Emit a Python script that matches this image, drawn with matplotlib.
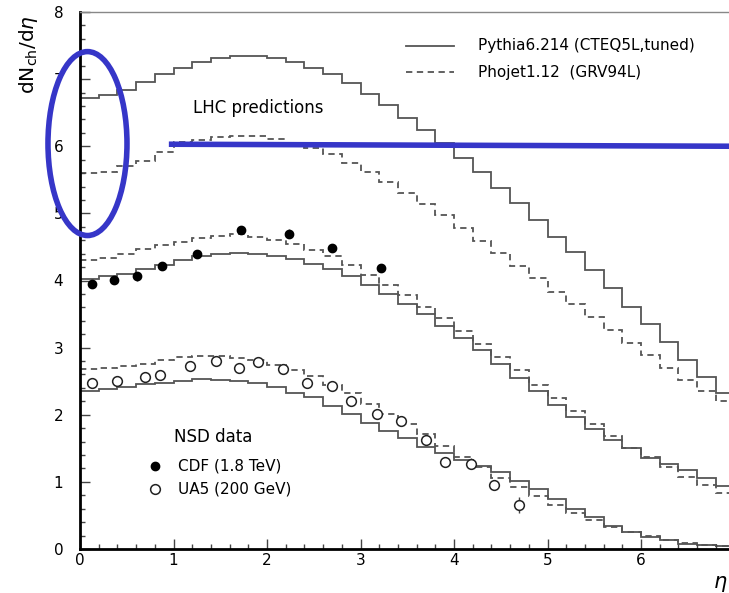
import numpy as np
import matplotlib
matplotlib.use("Agg")
import matplotlib.pyplot as plt
from matplotlib.patches import Ellipse

plt.rcParams['font.family'] = ['DejaVu Sans']

# pseudorapidity bins (width 0.2)
eta_edges = np.round(np.arange(0.0, 7.01, 0.2), 1)

# LHC predictions
lhc_pythia = [6.72, 6.77, 6.84, 6.95, 7.07, 7.16, 7.25, 7.31, 7.35, 7.35,
              7.31, 7.25, 7.16, 7.07, 6.94, 6.78, 6.61, 6.42, 6.24, 6.05,
              5.82, 5.61, 5.38, 5.15, 4.90, 4.65, 4.42, 4.15, 3.89, 3.61,
              3.35, 3.08, 2.82, 2.56, 2.33]
lhc_phojet = [5.60, 5.62, 5.71, 5.78, 5.91, 6.06, 6.10, 6.14, 6.16, 6.15,
              6.11, 6.04, 5.97, 5.88, 5.75, 5.62, 5.47, 5.30, 5.14, 4.97,
              4.78, 4.59, 4.41, 4.22, 4.03, 3.83, 3.65, 3.45, 3.26, 3.07,
              2.89, 2.70, 2.52, 2.35, 2.20]
# Tevatron 1.8 TeV
tev_pythia = [4.02, 4.06, 4.10, 4.17, 4.23, 4.30, 4.36, 4.39, 4.41, 4.40,
              4.36, 4.32, 4.25, 4.17, 4.06, 3.94, 3.80, 3.65, 3.50, 3.32,
              3.14, 2.96, 2.75, 2.55, 2.35, 2.15, 1.96, 1.79, 1.63, 1.50,
              1.36, 1.27, 1.17, 1.06, 0.94]
tev_phojet = [4.31, 4.33, 4.39, 4.47, 4.53, 4.58, 4.64, 4.67, 4.69, 4.65,
              4.60, 4.54, 4.46, 4.36, 4.23, 4.08, 3.94, 3.79, 3.61, 3.44,
              3.25, 3.05, 2.86, 2.66, 2.45, 2.25, 2.06, 1.86, 1.68, 1.51,
              1.37, 1.22, 1.08, 0.95, 0.83]
# SppS 200 GeV
ua5_pythia = [2.36, 2.39, 2.42, 2.46, 2.48, 2.51, 2.53, 2.52, 2.50, 2.47,
              2.41, 2.33, 2.26, 2.13, 2.01, 1.88, 1.76, 1.65, 1.52, 1.43,
              1.33, 1.23, 1.14, 1.02, 0.89, 0.75, 0.60, 0.47, 0.35, 0.25,
              0.18, 0.13, 0.08, 0.06, 0.04]
ua5_phojet = [2.68, 2.70, 2.73, 2.76, 2.81, 2.86, 2.87, 2.87, 2.84, 2.82,
              2.74, 2.67, 2.58, 2.44, 2.32, 2.16, 2.01, 1.86, 1.71, 1.53,
              1.37, 1.22, 1.06, 0.92, 0.79, 0.66, 0.54, 0.43, 0.33, 0.25,
              0.19, 0.13, 0.09, 0.06, 0.04]

# NSD data
cdf_eta = [0.13, 0.36, 0.61, 0.88, 1.25, 1.72, 2.23, 2.70, 3.22]
cdf_val = [3.95, 4.01, 4.06, 4.22, 4.39, 4.75, 4.70, 4.48, 4.19]
cdf_err = [0.06, 0.06, 0.06, 0.06, 0.06, 0.06, 0.06, 0.06, 0.06]

ua5_eta = [0.13, 0.40, 0.70, 0.86, 1.18, 1.45, 1.70, 1.90, 2.17, 2.43,
           2.70, 2.90, 3.18, 3.43, 3.70, 3.90, 4.18, 4.43, 4.70]
ua5_val = [2.48, 2.51, 2.56, 2.59, 2.72, 2.80, 2.69, 2.78, 2.68, 2.47,
           2.43, 2.21, 2.01, 1.90, 1.62, 1.29, 1.27, 0.95, 0.66]
ua5_err = [0.03, 0.03, 0.03, 0.03, 0.03, 0.03, 0.03, 0.03, 0.03, 0.03,
           0.03, 0.03, 0.04, 0.04, 0.05, 0.05, 0.08, 0.07, 0.12]

line_col = '#555555'
blue = '#3636c8'
dash = (0, (3.5, 2.5))

fig = plt.figure(figsize=(7.29, 5.93), dpi=100)
ax = fig.add_axes([80 / 729, 44 / 593, 654.5 / 729, 537 / 593])

for vals, ls in [(lhc_pythia, '-'), (lhc_phojet, dash),
                 (tev_pythia, '-'), (tev_phojet, dash),
                 (ua5_pythia, '-'), (ua5_phojet, dash)]:
    ax.stairs(vals, eta_edges, baseline=None, color=line_col, lw=1.3, ls=ls)

ax.errorbar(cdf_eta, cdf_val, yerr=cdf_err, fmt='o', ms=6, color='black',
            ecolor='#444444', elinewidth=1, capsize=0, zorder=5)
ax.errorbar(ua5_eta, ua5_val, yerr=ua5_err, fmt='o', ms=7, mfc='white',
            mec='#222222', mew=1.1, ecolor='#444444', elinewidth=1,
            capsize=0, zorder=5)

ax.set_xlim(0, 7)
ax.set_ylim(0, 8)
ax.set_xticks([0, 1, 2, 3, 4, 5, 6])
ax.set_xticks(np.round(np.arange(0, 7.01, 0.2), 1), minor=True)
ax.set_yticks([0, 1, 2, 3, 4, 5, 6, 7, 8])
ax.set_yticks(np.round(np.arange(0, 8.01, 0.2), 1), minor=True)
ax.tick_params(which='both', direction='in', top=False, right=False,
               labelsize=11, color='#444444', width=1)
ax.tick_params(which='major', length=7)
ax.tick_params(which='minor', length=3.5)
ax.tick_params(axis='y', pad=12)
ax.tick_params(axis='x', pad=3)

ax.spines['left'].set_linewidth(2)
ax.spines['bottom'].set_linewidth(2)
ax.spines['top'].set_linewidth(1)
ax.spines['top'].set_color('#888888')
ax.spines['right'].set_visible(False)

# model legend
ax.plot([3.49, 4.00], [7.50, 7.50], color=line_col, lw=1.3)
ax.plot([3.49, 4.00], [7.10, 7.10], color=line_col, lw=1.3, ls=dash)
ax.text(4.26, 7.50, 'Pythia6.214 (CTEQ5L,tuned)', fontsize=11, va='center')
ax.text(4.26, 7.10, 'Phojet1.12  (GRV94L)', fontsize=11, va='center')

ax.text(1.21, 6.57, 'LHC predictions', fontsize=12, va='center')

# data legend
ax.text(1.00, 1.67, 'NSD data', fontsize=12, va='center')
ax.plot([0.80], [1.24], 'o', ms=6, color='black')
ax.plot([0.80], [0.89], 'o', ms=7, mfc='white', mec='#222222', mew=1.1)
ax.text(1.05, 1.24, 'CDF (1.8 TeV)', fontsize=11, va='center')
ax.text(1.05, 0.89, 'UA5 (200 GeV)', fontsize=11, va='center')

# highlight marks
ax.add_patch(Ellipse((0.08, 6.04), 0.845, 2.74, fill=False, ec=blue, lw=4,
                     clip_on=False, zorder=6))
ax.plot([0.98, 7.0], [6.03, 6.00], color=blue, lw=4, clip_on=False, zorder=6)

fig.text(28 / 729, 1 - 55 / 593, r'dN$_{\mathrm{ch}}$/d$\eta$', rotation=90,
         fontsize=14.5, ha='center', va='center')
fig.text(728 / 729, 1 - 584 / 593, r'$\eta$', fontsize=15, ha='right',
         va='center')

fig.savefig('out.png', dpi=100)
